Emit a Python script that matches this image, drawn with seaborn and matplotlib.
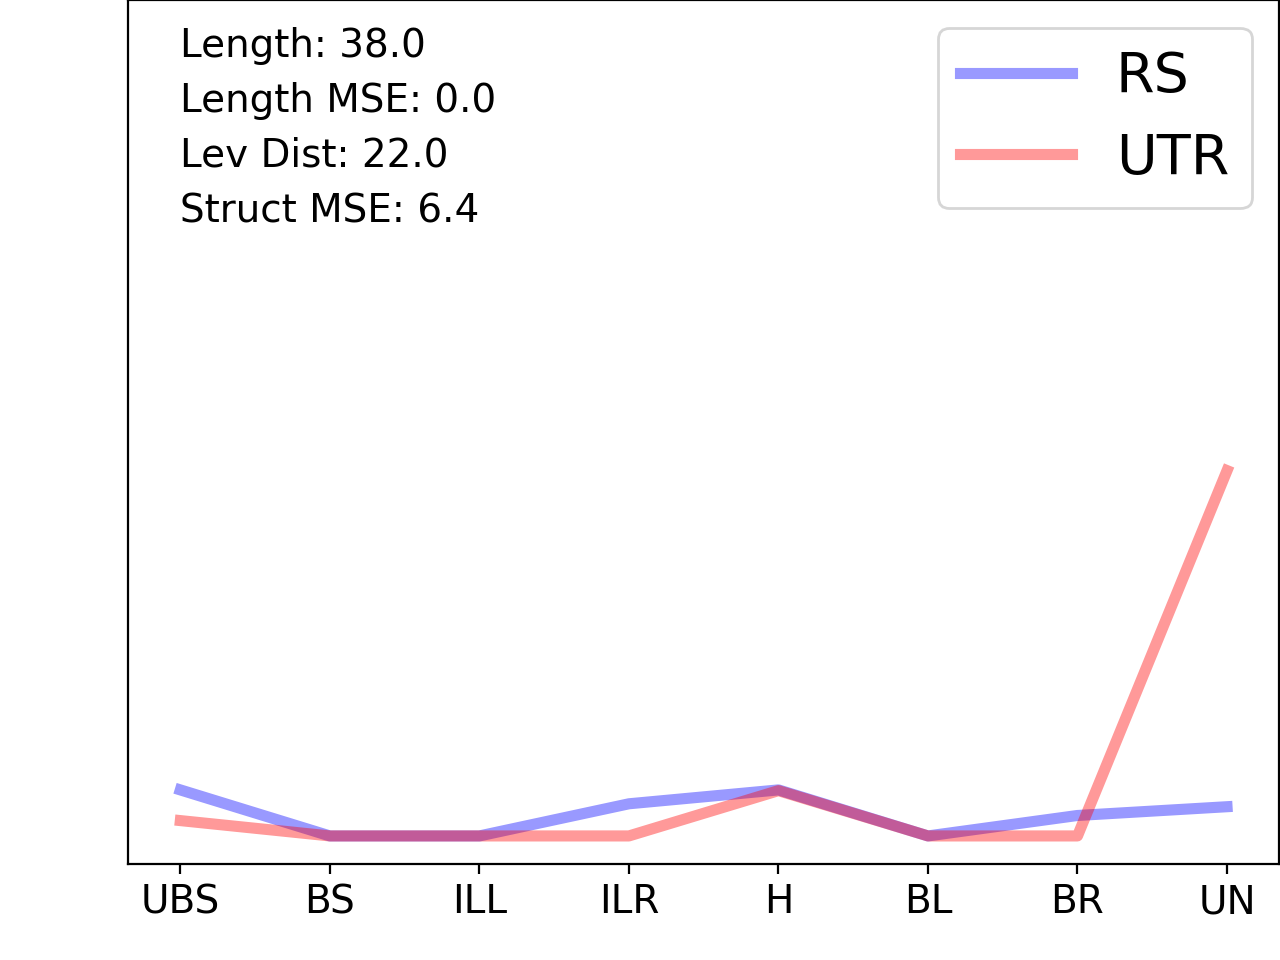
import matplotlib
matplotlib.use("Agg")
import matplotlib.pyplot as plt
import pandas as pd
import seaborn as sns

categories = ["UBS", "BS", "ILL", "ILR", "H", "BL", "BR", "UN"]
rs_values = [6.3, 0.0, 0.0, 4.4, 6.3, 0.0, 2.8, 4.0]
utr_values = [2.1, 0.0, 0.0, 0.0, 6.2, 0.0, 0.0, 50.0]
stats_lines = ["Length: 38.0", "Length MSE: 0.0", "Lev Dist: 22.0", "Struct MSE: 6.4"]

df = pd.DataFrame({"pos": categories, "RS": rs_values, "UTR": utr_values})

fig = plt.figure(figsize=(6.4, 4.8), dpi=200)
ax = fig.add_axes([0.1, 0.1, 0.8995, 0.9])

sns.lineplot(data=df, x="pos", y="RS", sort=False, color="blue", alpha=0.4,
             linewidth=4, label="RS", ax=ax)
sns.lineplot(data=df, x="pos", y="UTR", sort=False, color="red", alpha=0.4,
             linewidth=4, label="UTR", ax=ax)

ax.set_ylim(-3.84, 114.4)
ax.set_yticks([])
ax.set_xlabel("")
ax.set_ylabel("")
ax.tick_params(axis="x", labelsize=14)

ax.text(0.045, 0.969, "\n".join(stats_lines), transform=ax.transAxes,
        va="top", ha="left", fontsize=14, linespacing=1.57)
ax.legend(loc="upper right", fontsize=20)

fig.savefig("out.png", dpi=200)
